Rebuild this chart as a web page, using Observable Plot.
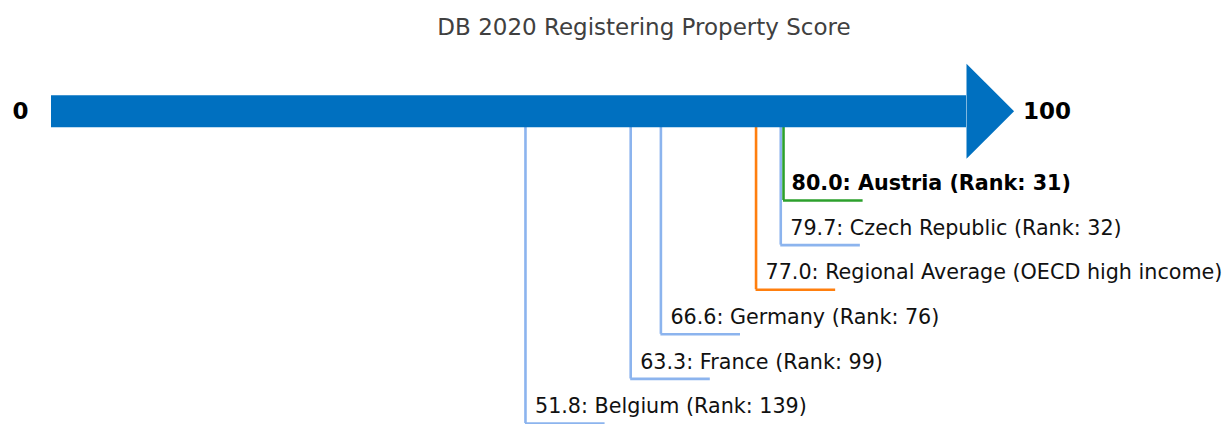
<!DOCTYPE html>
<html><head><meta charset="utf-8">
<script src="https://cdn.jsdelivr.net/npm/d3@7"></script>
<script src="https://cdn.jsdelivr.net/npm/@observablehq/plot@0.6"></script>
<style>
body{margin:0;background:#fff}
#title{height:54px;line-height:54px;font-family:"DejaVu Sans";font-size:23px;color:#404040;text-align:center;padding-left:59px;width:1170px;white-space:nowrap}
svg{font-family:"DejaVu Sans"}
</style>
</head><body>
<div id="title"></div>
<div id="chart"></div>
<script>
const titleText = "DB 2020 Registering Property Score";
const names = ["Austria", "Czech Republic", "Regional Average", "Germany", "France", "Belgium"];
const scores = [80.0, 79.7, 77.0, 66.6, 63.3, 51.8];
const ranks = ["Rank: 31", "Rank: 32", "OECD high income", "Rank: 76", "Rank: 99", "Rank: 139"];
const kinds = ["focus", "peer", "region", "peer", "peer", "peer"];
const scaleEnds = [0, 100];

const colors = {focus: "#2ca02c", peer: "#8cb4ee", region: "#ff7f0e"};
const arrowColor = "#0070c0";
const tail = 8.7;       // horizontal leader length (score units)
const headLen = 5.2;    // arrow head length (score units)
const headHalf = 1.065; // arrow head half height (row units)

const rows = names.map((n, i) => ({
  name: n, score: scores[i], kind: kinds[i], level: i + 2,
  label: `${scores[i].toFixed(1)}: ${n} (${ranks[i]})`
}));
const head = [
  {x: scaleEnds[1], y: -headHalf},
  {x: scaleEnds[1] + headLen, y: 0},
  {x: scaleEnds[1], y: headHalf}
];

document.getElementById("title").textContent = titleText;

const plot = Plot.plot({
  width: 1229, height: 370,
  marginLeft: 51, marginRight: 263, marginTop: 56.8, marginBottom: 1,
  x: {domain: scaleEnds, axis: null},
  y: {domain: [0, 7], reverse: true, axis: null},
  marks: [
    Plot.ruleX(rows, {x: "score", y1: 0, y2: "level", stroke: d => colors[d.kind], strokeWidth: 2.6}),
    Plot.ruleY(rows, {y: "level", x1: "score", x2: d => d.score + tail, stroke: d => colors[d.kind], strokeWidth: 2.6}),
    Plot.ruleY([0], {x1: scaleEnds[0], x2: scaleEnds[1], stroke: arrowColor, strokeWidth: 32}),
    Plot.line(head, {x: "x", y: "y", fill: arrowColor, stroke: "none"}),
    Plot.text(rows.filter(d => d.kind !== "focus"), {x: "score", y: "level", text: "label", dx: 9.5, dy: -17, textAnchor: "start", fontSize: 20.7, fill: "#111"}),
    Plot.text(rows.filter(d => d.kind === "focus"), {x: "score", y: "level", text: "label", dx: 8, dy: -17, textAnchor: "start", fontSize: 20.7, fontWeight: "bold", fill: "#000"}),
    Plot.text([scaleEnds[0]], {x: d => d, y: 0, text: d => String(d), dx: -31, textAnchor: "middle", fontSize: 23, fontWeight: "bold", fill: "#000"}),
    Plot.text([scaleEnds[1]], {x: d => d + headLen, y: 0, text: d => String(d), dx: 9, textAnchor: "start", fontSize: 23, fontWeight: "bold", fill: "#000"})
  ]
});
plot.style.overflow = "visible";
document.getElementById("chart").appendChild(plot);
</script>
</body></html>
